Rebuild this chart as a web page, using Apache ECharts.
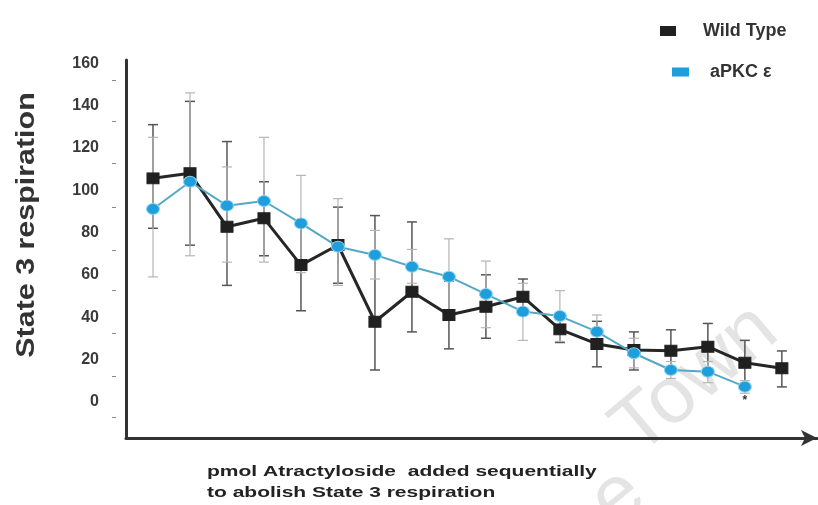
<!DOCTYPE html>
<html>
<head>
<meta charset="utf-8">
<script src="https://cdn.jsdelivr.net/npm/echarts@6/dist/echarts.min.js"></script>
<style>
html,body{margin:0;padding:0;background:#fff;}
#chart{width:818px;height:505px;}
</style>
</head>
<body>
<div id="chart"></div>
<script>
// Sequential additions (x categories)
var additions = [1,2,3,4,5,6,7,8,9,10,11,12,13,14,15,16,17,18];
// Wild Type means and error bar ends
var wtMean = [105.6,108.0,82.7,86.7,64.6,74.1,37.8,52.0,41.0,44.9,49.6,34.2,27.3,24.4,24.1,26.0,18.4,15.8];
var wtLow  = [82,74,55,69,43,56,15,33,25,30,41,28,16.5,15,14,15.5,7,7];
var wtHigh = [131,142,123,104,86,92,88,85,57,60,58,40,38,33,34,37,29,24];
// aPKC epsilon means and error bar ends
var apkcMean = [91.1,104.0,92.7,94.9,84.3,73.3,69.4,63.8,59.1,50.9,42.6,40.5,33.1,22.9,15.0,14.2,7.1];
var apkcLow  = [59,69,66,66,61,55,58,56,41,35,29,28.5,25,16,11,9,4];
var apkcHigh = [125,146,111,125,107,96,81,72,77,66.5,56,52.5,41,30,19,19,10];
// Axis tick labels
var yTickLabels = [0,20,40,60,80,100,120,140,160];
var yTickMarks = [-7.4,12.2,32.3,52.8,71.7,92,112.7,132.4,152.1];

var seriesNames = ['Wild Type','aPKC \u03b5'];

var chart = echarts.init(document.getElementById('chart'));

function errData(low, high){
  return low.map(function(l,i){ return [additions[i], l, high[i]]; });
}
function errRender(color, width){
  return function(params, api){
    var x = api.value(0), lo = api.value(1), hi = api.value(2);
    var pt = api.coord([x, hi]), pb = api.coord([x, lo]);
    var cw = 5;
    var st = {stroke: color, lineWidth: width};
    return {type:'group', children:[
      {type:'line', shape:{x1:pt[0],y1:pt[1],x2:pb[0],y2:pb[1]}, style:st},
      {type:'line', shape:{x1:pt[0]-cw,y1:pt[1],x2:pt[0]+cw,y2:pt[1]}, style:st},
      {type:'line', shape:{x1:pb[0]-cw,y1:pb[1],x2:pb[0]+cw,y2:pb[1]}, style:st}
    ]};
  };
}

var apkcData = apkcMean.map(function(v,i){
  var d = {value:[additions[i], v]};
  if (i === apkcMean.length - 1) {
    d.label = {show:true, formatter:'*', position:'bottom', distance:2, color:'#333', fontSize:12, fontWeight:'bold'};
  }
  return d;
});

var option = {
  animation: false,
  backgroundColor: '#fff',
  grid: {left:126, top:60, width:691, height:378, containLabel:false},
  legend: [
    {data:[seriesNames[0]], left:655, top:17, icon:'rect', itemWidth:16, itemHeight:10,
     itemStyle:{borderWidth:0},
     textStyle:{fontFamily:'Liberation Sans', fontWeight:'bold', fontSize:18, color:'#333', padding:[0,0,0,22]}},
    {data:[seriesNames[1]], left:667, top:58, icon:'rect', itemWidth:17, itemHeight:9,
     itemStyle:{borderWidth:0},
     textStyle:{fontFamily:'Liberation Sans', fontWeight:'bold', fontSize:18, color:'#333', padding:[0,0,0,16]}}
  ],
  xAxis: {
    type:'value', min:0.27, max:18.95,
    axisLine:{show:true, onZero:false, symbol:['none','arrow'], symbolSize:[12,16], lineStyle:{color:'#333', width:3}},
    axisTick:{show:false}, axisLabel:{show:false}, splitLine:{show:false}
  },
  yAxis: [
    {type:'value', min:-17.16, max:161.56, position:'left',
     axisLine:{show:true, onZero:false, lineStyle:{color:'#333', width:3}},
     axisTick:{show:false},
     axisLabel:{customValues:yTickLabels, margin:27, fontFamily:'Liberation Sans', fontWeight:'bold', fontSize:16, color:'#3a3a3a'},
     splitLine:{show:false}},
    {type:'value', min:-17.16, max:161.56, position:'left', offset:10,
     axisLine:{show:false}, axisLabel:{show:false}, splitLine:{show:false},
     axisTick:{show:true, length:4, customValues:yTickMarks, lineStyle:{color:'#888', width:1}}}
  ],
  graphic: [
    {type:'text', x:27, y:225, rotation:Math.PI/2, scaleX:1.17, z:10,
     style:{text:'State 3 respiration', fontFamily:'Liberation Sans', fontWeight:'bold', fontSize:26, fill:'#333', textAlign:'center', textVerticalAlign:'middle'}},
    {type:'text', x:207, y:461, scaleX:1.4, z:10,
     style:{text:'pmol Atractyloside  added sequentially\nto abolish State 3 respiration', fontFamily:'Liberation Sans', fontWeight:'bold', fontSize:15, lineHeight:21, fill:'#222', textVerticalAlign:'top'}},
    {type:'text', x:624, y:440, rotation:Math.PI*40/180, z:0, silent:true,
     style:{text:'Town', fontFamily:'Liberation Sans', fontSize:80, fill:'#e4e4e4', textAlign:'left', textVerticalAlign:'middle'}},
    {type:'text', x:618, y:498, rotation:Math.PI*40/180, z:0, silent:true,
     style:{text:'e', fontFamily:'Liberation Sans', fontSize:80, fill:'#e4e4e4', textAlign:'center', textVerticalAlign:'middle'}}
  ],
  series: [
    {type:'custom', name:'wtErr', renderItem:errRender('#555',1.5), data:errData(wtLow, wtHigh), encode:{x:0, y:[1,2]}, z:2, silent:true},
    {type:'custom', name:'apkcErr', renderItem:errRender('#b5b5b5',1.2), data:errData(apkcLow, apkcHigh), encode:{x:0, y:[1,2]}, z:2, silent:true},
    {type:'line', name:seriesNames[0], data:wtMean.map(function(v,i){return [additions[i], v];}),
     symbol:'rect', symbolSize:[12,11], itemStyle:{color:'#202020', borderColor:'#202020'},
     lineStyle:{color:'#262626', width:3}, z:4},
    {type:'line', name:seriesNames[1], data:apkcData,
     symbol:'circle', symbolSize:[13,11], itemStyle:{color:'#1e9fdc', borderColor:'#8fd3f0', borderWidth:1},
     lineStyle:{color:'#55a7c6', width:2}, z:5}
  ]
};
chart.setOption(option);
</script>
</body>
</html>
